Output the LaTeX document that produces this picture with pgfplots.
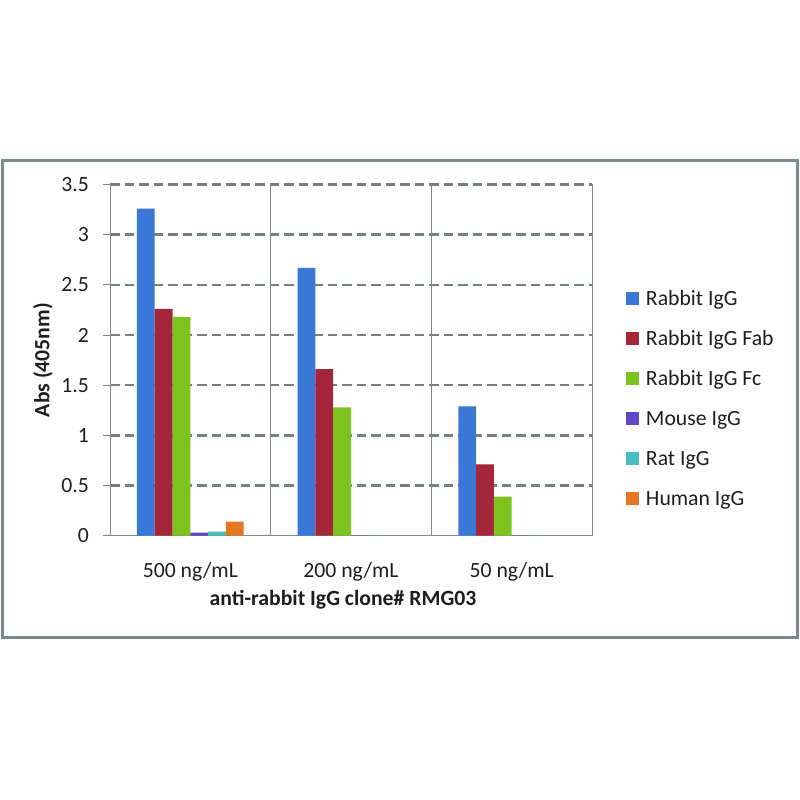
\documentclass[border=0pt]{standalone}
\usepackage{pgfplots}
\pgfplotsset{compat=1.18}
\usepackage{fontspec}
\setmainfont{Carlito}
\definecolor{cblue}{RGB}{58,120,216}
\definecolor{cred}{RGB}{165,38,58}
\definecolor{cgreen}{RGB}{126,194,32}
\definecolor{cpurple}{RGB}{96,70,200}
\definecolor{ccyan}{RGB}{72,190,192}
\definecolor{corange}{RGB}{230,118,34}
\definecolor{axgray}{RGB}{128,138,138}
\definecolor{gridgray}{RGB}{118,128,128}
\definecolor{framegray}{RGB}{122,138,138}
\definecolor{txt}{RGB}{30,30,30}
\newcommand{\cf}{\fontsize{21.7}{26}\selectfont}
\begin{document}
\begin{tikzpicture}
\useasboundingbox (0pt,0pt) rectangle (800pt,800pt);
\fill[white] (0pt,0pt) rectangle (800pt,800pt);
\draw[framegray, line width=3pt] (2.5pt,162pt) rectangle (797pt,639.3pt);
\begin{axis}[
  at={(110pt,264.3pt)}, anchor=south west,
  scale only axis, width=482pt, height=351.2pt,
  ybar=0pt, bar width=17.8pt,
  xmin=-0.5, xmax=2.5, ymin=0, ymax=3.5,
  xtick={0,1,2},
  xticklabels={500 ng/mL, 200 ng/mL, 50 ng/mL},
  ytick={0.5,1,1.5,2,2.5,3,3.5},
  extra y ticks={0},
  extra y tick style={grid=none},
  separate axis lines,
  axis x line*=bottom, axis y line*=left,
  axis line style={axgray, line width=1pt},
  x axis line style={-}, y axis line style={-},
  xtick style={draw=none},
  ytick style={axgray, line width=1pt},
  ytick align=outside, major tick length=7pt,
  ymajorgrids=true,
  major grid style={gridgray, line width=2.6pt, dash pattern=on 9.5pt off 5pt},
  extra x ticks={0.5,1.5,2.5},
  extra x tick labels={},
  extra x tick style={grid=major, major grid style={solid, axgray, line width=1pt}, tick style={draw=none}},
  /pgf/number format/assume math mode=true,
  tick label style={font=\cf, text=txt},
  yticklabel style={inner sep=0pt, anchor=east, xshift=-14pt},
  xticklabel style={inner sep=0pt, anchor=base, yshift=-35pt},
  every axis y label/.style={at={(rel axis cs:0,0.5)}, rotate=90, anchor=center, yshift=67pt, font=\cf\bfseries, text=txt},
  every axis x label/.style={at={(rel axis cs:0.5,0)}, anchor=base, yshift=-70pt, xshift=-8pt, font=\cf\bfseries, text=txt},
  ylabel={Abs (405nm)},
  xlabel={anti-rabbit IgG clone\# RMG03},
  legend cell align=left,
  legend image code/.code={\fill[#1] (0pt,-6.5pt) rectangle (13pt,6.5pt);},
  legend style={at={(1.0705,0.392)}, anchor=west, draw=none, fill=none, inner sep=0pt, outer sep=0pt,
    row sep=20pt, column sep=7pt,
    nodes={anchor=west, inner sep=0pt, text height=17pt, text depth=3pt, font=\cf, text=txt}},
]
\addplot[fill=cblue, draw=none] coordinates {(0,3.26) (1,2.67) (2,1.29)};
\addplot[fill=cred, draw=none] coordinates {(0,2.26) (1,1.66) (2,0.71)};
\addplot[fill=cgreen, draw=none] coordinates {(0,2.18) (1,1.28) (2,0.39)};
\addplot[fill=cpurple, draw=none] coordinates {(0,0.03) (1,0) (2,0)};
\addplot[fill=ccyan, draw=none] coordinates {(0,0.04) (1,0) (2,0)};
\addplot[fill=corange, draw=none] coordinates {(0,0.14) (1,0) (2,0)};
\legend{Rabbit IgG, Rabbit IgG Fab, Rabbit IgG Fc, Mouse IgG, Rat IgG, Human IgG}
\end{axis}
\end{tikzpicture}
\end{document}
